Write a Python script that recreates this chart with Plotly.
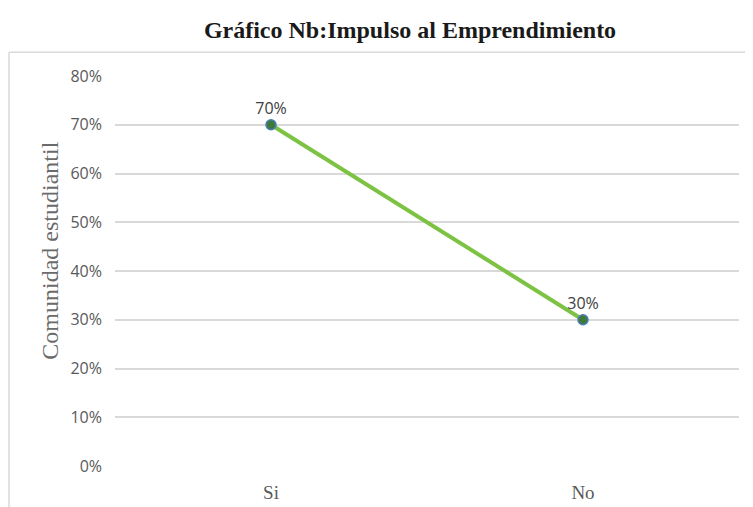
import plotly.graph_objects as go

categories = ["Si", "No"]
values = [0.70, 0.30]
labels = ["70%", "30%"]
y_ticks = [0, 0.1, 0.2, 0.3, 0.4, 0.5, 0.6, 0.7, 0.8]

L, R, T, B = 107, 22, 68, 46
PW, PH = 753 - L - R, 507 - T - B

fig = go.Figure()
fig.add_trace(go.Scatter(
    x=categories, y=values, mode="lines+markers+text",
    text=labels, textposition="top center",
    textfont=dict(family="Open Sans, sans-serif", size=16, color="#404040"),
    line=dict(color="#7DC243", width=4),
    marker=dict(size=10, color="#3F7A3A", line=dict(color="#4A7EBB", width=1.5)),
    cliponaxis=False, showlegend=False,
))

fig.update_layout(
    width=753, height=507,
    margin=dict(l=L, r=R, t=T, b=B),
    paper_bgcolor="white", plot_bgcolor="white",
    title=dict(text="<b>Gráfico Nb:Impulso al Emprendimiento</b>", x=402/753, xanchor="center",
               y=1 - 22/507, yanchor="middle",
               font=dict(family="Liberation Serif, serif", size=24, color="#1a1a1a")),
    xaxis=dict(type="category", range=[-0.5, 1.5], showgrid=False, showline=False, zeroline=False,
               ticks="", tickfont=dict(family="Liberation Serif, serif", size=19, color="#595959"),
               ticklabelstandoff=13),
    yaxis=dict(range=[0, 0.8], tickvals=y_ticks, tickformat=".0%", showgrid=True,
               gridcolor="#D9D9D9", gridwidth=1.5, zeroline=False, showline=False, ticks="",
               tickfont=dict(family="Open Sans, sans-serif", size=16, color="#595959"),
               ticklabelstandoff=12),
    shapes=[
        dict(type="line", xref="paper", yref="paper", x0=(1 - L) / PW, x1=1.2,
             y0=1 + (T - 44) / PH, y1=1 + (T - 44) / PH, line=dict(color="#D9D9D9", width=1.5)),
        dict(type="line", xref="paper", yref="paper", x0=(1 - L) / PW, x1=(1 - L) / PW,
             y0=1 + (T - 44) / PH, y1=-0.2, line=dict(color="#D9D9D9", width=1.5)),
    ],
    annotations=[
        dict(text="Comunidad estudiantil", xref="paper", yref="paper",
             x=(42 - L) / PW, y=1 - (244 - T) / PH, textangle=-90, showarrow=False,
             xanchor="center", yanchor="middle",
             font=dict(family="Liberation Serif, serif", size=24, color="#6b6b6b")),
    ],
)

fig.write_html("out.html")
